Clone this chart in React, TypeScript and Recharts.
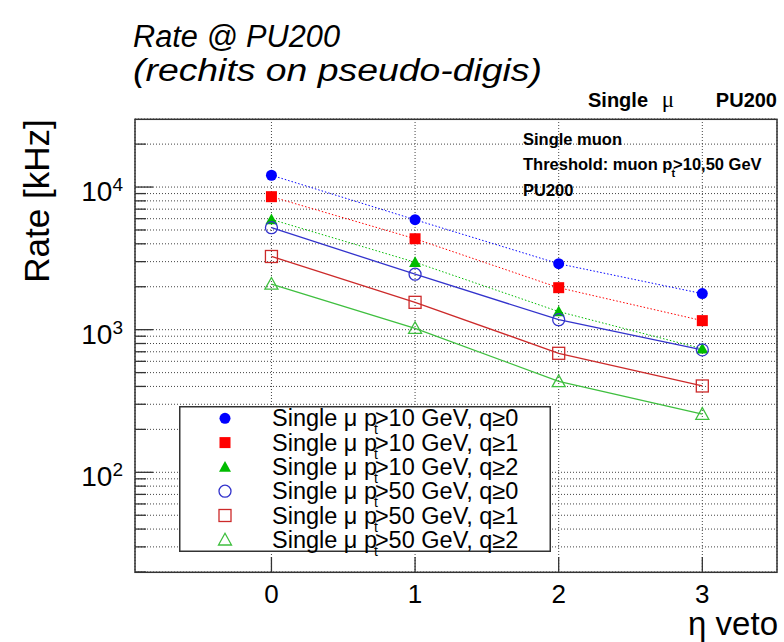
import React from 'react';
import { LineChart, Line, XAxis, YAxis, CartesianGrid, Legend } from 'recharts';

// eta veto values on the x axis
const ETA_VETO = [0, 1, 2, 3];

// rates in kHz
const PT10_Q0 = [12100, 5900, 2900, 1790];
const PT10_Q1 = [8560, 4340, 1970, 1157];
const PT10_Q2 = [5930, 2970, 1340, 735];
const PT50_Q0 = [5190, 2450, 1175, 722];
const PT50_Q1 = [3260, 1555, 683, 403];
const PT50_Q2 = [2090, 1023, 434, 256];

const X_TICKS = [0, 1, 2, 3];
const Y_TICKS = [
  20, 30, 40, 50, 60, 70, 80, 90,
  100, 200, 300, 400, 500, 600, 700, 800, 900,
  1000, 2000, 3000, 4000, 5000, 6000, 7000, 8000, 9000,
  10000, 20000,
];
const Y_EXPONENTS: Record<number, string> = { 100: '2', 1000: '3', 10000: '4' };

type Shape = 'circle' | 'square' | 'triangle';

interface SeriesDef {
  key: string;
  pt: number;
  q: number;
  color: string;
  shape: Shape;
  filled: boolean;
}

const SERIES: SeriesDef[] = [
  { key: 'pt10q0', pt: 10, q: 0, color: '#0000ff', shape: 'circle', filled: true },
  { key: 'pt10q1', pt: 10, q: 1, color: '#ff0000', shape: 'square', filled: true },
  { key: 'pt10q2', pt: 10, q: 2, color: '#00bb00', shape: 'triangle', filled: true },
  { key: 'pt50q0', pt: 50, q: 0, color: '#3333cc', shape: 'circle', filled: false },
  { key: 'pt50q1', pt: 50, q: 1, color: '#cc2a2a', shape: 'square', filled: false },
  { key: 'pt50q2', pt: 50, q: 2, color: '#3fbf3f', shape: 'triangle', filled: false },
];

const VALUES: Record<string, number[]> = {
  pt10q0: PT10_Q0,
  pt10q1: PT10_Q1,
  pt10q2: PT10_Q2,
  pt50q0: PT50_Q0,
  pt50q1: PT50_Q1,
  pt50q2: PT50_Q2,
};

const data = ETA_VETO.map((eta, i) => {
  const row: Record<string, number> = { eta };
  SERIES.forEach(s => { row[s.key] = VALUES[s.key][i]; });
  return row;
});

const FONT = '"Liberation Sans", Arial, Helvetica, sans-serif';

const marker = (s: SeriesDef, cx: number, cy: number, key?: React.Key) => {
  const fill = s.filled ? s.color : 'none';
  const sw = s.filled ? 0 : 1.3;
  if (s.shape === 'circle') {
    const r = s.filled ? 5.5 : 6;
    return <circle key={key} cx={cx} cy={cy} r={r} fill={fill} stroke={s.color} strokeWidth={sw} />;
  }
  if (s.shape === 'square') {
    const h = s.filled ? 5.5 : 6;
    return <rect key={key} x={cx - h} y={cy - h} width={2 * h} height={2 * h} fill={fill} stroke={s.color} strokeWidth={sw} />;
  }
  const h = s.filled ? 6 : 6.5;
  const pts = `${cx - h},${cy + h * 0.8} ${cx + h},${cy + h * 0.8} ${cx},${cy - h}`;
  return <polygon key={key} points={pts} fill={fill} stroke={s.color} strokeWidth={sw} />;
};

const XTick = (props: any) => {
  const { x, y, payload } = props;
  return (
    <g>
      <line x1={x} x2={x} y1={y} y2={y - 15} stroke="#333" strokeWidth={1.3} />
      <text x={x} y={y + 31} textAnchor="middle" fontSize={26} fill="#000" fontFamily={FONT}>
        {payload.value}
      </text>
    </g>
  );
};

const YTick = (props: any) => {
  const { x, y, payload } = props;
  const exp = Y_EXPONENTS[payload.value];
  const major = exp !== undefined;
  return (
    <g>
      <line x1={x} x2={x + (major ? 18 : 11)} y1={y} y2={y} stroke="#333" strokeWidth={1.3} />
      {major && (
        <text x={x - 12} y={y + 14} textAnchor="end" fontSize={28} fill="#000" fontFamily={FONT}>
          10<tspan dy={-10} fontSize={19}>{exp}</tspan>
        </text>
      )}
    </g>
  );
};

const LegendBox = () => (
  <svg width={372} height={146} style={{ display: 'block', overflow: 'visible' }}>
    <rect x={0.75} y={0.75} width={370.5} height={144.5} fill="#fff" stroke="#333" strokeWidth={1.5} />
    {SERIES.map((s, i) => {
      const cy = 12.3 + i * 24.3;
      return (
        <g key={s.key}>
          {marker(s, 46, cy)}
          <text x={93} y={cy + 8} fontSize={23.5} fill="#000" fontFamily={FONT}>
            Single μ p
            <tspan dx={-3} dy={8} fontSize={14}>t</tspan>
            <tspan dx={-3} dy={-8}>{`>${s.pt} GeV, q≥${s.q}`}</tspan>
          </text>
        </g>
      );
    })}
  </svg>
);

const App: React.FC = () => {
  return (
    <div style={{ position: 'absolute', left: 0, top: 0, width: 784, height: 642, background: '#fff', fontFamily: FONT }}>
      <LineChart width={784} height={642} data={data} margin={{ top: 119, right: 7, bottom: 30, left: 0 }}>
        <CartesianGrid stroke="#444" strokeDasharray="1 2" />
        <XAxis
          dataKey="eta"
          type="number"
          domain={[-0.95, 3.52]}
          ticks={X_TICKS}
          interval={0}
          allowDataOverflow
          height={40}
          axisLine={false}
          tickLine={false}
          tickSize={0}
          tickMargin={0}
          tick={XTick}
        />
        <YAxis
          type="number"
          scale="log"
          domain={[20, 30000]}
          ticks={Y_TICKS}
          interval={0}
          allowDataOverflow
          width={135}
          axisLine={false}
          tickLine={false}
          tickSize={0}
          tickMargin={0}
          tick={YTick}
        />
        <Legend
          layout="vertical"
          align="center"
          verticalAlign="middle"
          content={() => <LegendBox />}
          wrapperStyle={{ left: 179, top: 406, width: 372, height: 146 }}
        />
        {SERIES.map(s => (
          <Line
            key={s.key}
            dataKey={s.key}
            name={`Single μ pt>${s.pt} GeV, q≥${s.q}`}
            stroke={s.color}
            strokeWidth={s.filled ? 1 : 1.3}
            strokeDasharray={s.filled ? '1.5 2' : undefined}
            dot={(p: any) => marker(s, p.cx, p.cy, `${s.key}-${p.index}`)}
            activeDot={false}
            isAnimationActive={false}
          />
        ))}
      </LineChart>
      <svg
        width={784}
        height={642}
        style={{ position: 'absolute', left: 0, top: 0, pointerEvents: 'none' }}
        fontFamily={FONT}
      >
        <rect x={135} y={119.3} width={642} height={453} fill="none" stroke="#333" strokeWidth={1.5} />
        <text x={133} y={47} fontSize={31} fontStyle="italic" fill="#000" textLength={207} lengthAdjust="spacingAndGlyphs">
          Rate @ PU200
        </text>
        <text x={133} y={81} fontSize={31} fontStyle="italic" fill="#000" textLength={409} lengthAdjust="spacingAndGlyphs">
          (rechits on pseudo-digis)
        </text>
        <text x={588} y={107} fontSize={20} fontWeight="bold" fill="#000">Single</text>
        <text x={668} y={107} fontSize={23} textAnchor="middle" fontFamily='"Liberation Serif", "DejaVu Serif", serif' fill="#000">μ</text>
        <text x={777} y={107} fontSize={20} fontWeight="bold" textAnchor="end" fill="#000">PU200</text>
        <text x={523} y={145} fontSize={16.5} fontWeight="bold" fill="#000">Single muon</text>
        <text x={523} y={170} fontSize={16.5} fontWeight="bold" fill="#000">
          Threshold: muon p
          <tspan dx={-1} dy={7} fontSize={11}>t</tspan>
          <tspan dx={-2} dy={-7}>{'>10,50 GeV'}</tspan>
        </text>
        <text x={523} y={196} fontSize={16.5} fontWeight="bold" fill="#000">PU200</text>
        <text
          transform="translate(49,201) rotate(-90)"
          textAnchor="middle"
          fontSize={35}
          fill="#000"
        >
          Rate [kHz]
        </text>
        <text x={778} y={635} fontSize={33} textAnchor="end" fill="#000">η veto</text>
      </svg>
    </div>
  );
};

export default App;
